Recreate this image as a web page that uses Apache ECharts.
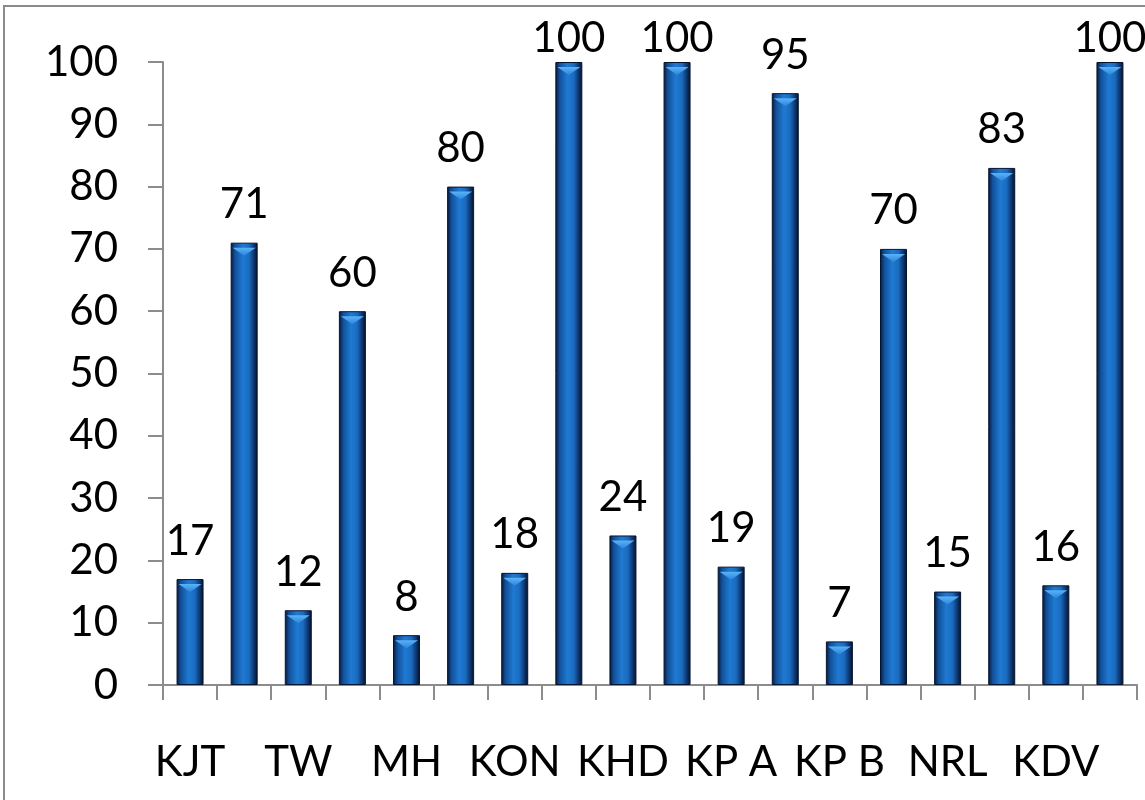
<!DOCTYPE html>
<html>
<head>
<meta charset="utf-8">
<script src="https://cdn.jsdelivr.net/npm/echarts@6/dist/echarts.min.js"></script>
<style>
  html, body { margin: 0; padding: 0; background: #fff; }
  #main { width: 1145px; height: 800px; }
</style>
</head>
<body>
<div id="main"></div>
<script>
  // two bars per site, label only under the first one
  var categories = ["KJT", "", "TW", "", "MH", "", "KON", "", "KHD", "", "KP A", "", "KP B", "", "NRL", "", "KDV", ""];
  var values = [17, 71, 12, 60, 8, 80, 18, 100, 24, 100, 19, 95, 7, 70, 15, 83, 16, 100];
  var yTicks = [0, 10, 20, 30, 40, 50, 60, 70, 80, 90, 100];

  var chartDom = document.getElementById("main");
  var myChart = echarts.init(chartDom);
  var fontFamily = "Lato, 'Open Sans', sans-serif";
  var yMax = yTicks[yTicks.length - 1];
  var option;

  // labels of full bars sit closer to the bar (kept inside the chart area)
  var barData = values.map(function (v) {
    if (v >= yMax) {
      return { value: v, label: { distance: 3 } };
    }
    return v;
  });

  option = {
    animation: false,
    backgroundColor: "#fff",
    graphic: [
      {
        type: "rect",
        shape: { x: 4, y: 6, width: 1160, height: 820 },
        style: { fill: "none", stroke: "#8a8a8a", lineWidth: 2 },
        silent: true,
      },
    ],
    grid: {
      left: 163,
      right: 8,
      top: 62,
      bottom: 115,
    },
    xAxis: {
      type: "category",
      data: categories,
      axisLine: { lineStyle: { color: "#8c8c8c", width: 2 } },
      axisTick: { show: true, length: 15, lineStyle: { color: "#8c8c8c", width: 2 } },
      axisLabel: {
        interval: 0,
        margin: 56,
        color: "#000",
        fontSize: 42,
        fontFamily: fontFamily,
      },
    },
    yAxis: {
      type: "value",
      min: yTicks[0],
      max: yMax,
      interval: 10,
      splitLine: { show: false },
      axisLine: { show: true, lineStyle: { color: "#8c8c8c", width: 2 } },
      axisTick: { show: true, length: 15, lineStyle: { color: "#8c8c8c", width: 2 } },
      axisLabel: {
        margin: 45,
        color: "#000",
        fontSize: 42,
        fontFamily: fontFamily,
      },
    },
    series: [
      {
        type: "bar",
        data: barData,
        barWidth: 27,
        itemStyle: {
          borderColor: "#06152e",
          borderWidth: 1,
          color: new echarts.graphic.LinearGradient(0, 0, 1, 0, [
            { offset: 0, color: "#061634" },
            { offset: 0.16, color: "#12509a" },
            { offset: 0.45, color: "#1f7ad2" },
            { offset: 0.68, color: "#1a6bc0" },
            { offset: 0.86, color: "#0d3670" },
            { offset: 1, color: "#040f24" },
          ]),
        },
        label: {
          show: true,
          position: "top",
          distance: 17,
          color: "#000",
          fontSize: 42,
          fontFamily: fontFamily,
        },
      },
      {
        // light bevel at the top of every bar
        type: "pictorialBar",
        data: values,
        symbol: "path://M0,0 L10,0 L5,3 Z",
        symbolSize: [23, 8],
        symbolPosition: "end",
        symbolOffset: [0, 5],
        silent: true,
        z: 3,
        itemStyle: {
          color: new echarts.graphic.LinearGradient(0, 0, 0, 1, [
            { offset: 0, color: "#5bb2f5" },
            { offset: 1, color: "#2a86dc" },
          ]),
        },
      },
    ],
  };

  option && myChart.setOption(option);
</script>
</body>
</html>
